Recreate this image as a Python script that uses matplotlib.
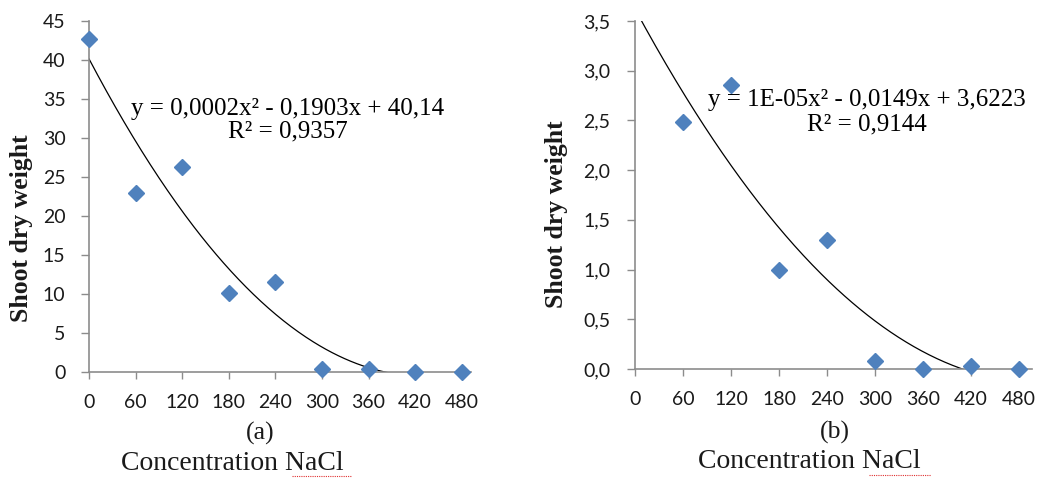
import numpy as np
import matplotlib
matplotlib.use("Agg")
import matplotlib.pyplot as plt
from matplotlib.lines import Line2D

# NaCl concentration levels
conc = [0, 60, 120, 180, 240, 300, 360, 420, 480]

# shoot dry weight, panel (a) and (b)
weight_a = [42.65, 22.9, 26.3, 10.17, 11.58, 0.34, 0.35, 0.0, 0.0]
weight_b = [3.525, 2.48, 2.86, 1.0, 1.30, 0.076, 0.0, 0.027, 0.0]

xticks = [0, 60, 120, 180, 240, 300, 360, 420, 480]
yticks_a = [0, 5, 10, 15, 20, 25, 30, 35, 40, 45]
yticks_b = [0.0, 0.5, 1.0, 1.5, 2.0, 2.5, 3.0, 3.5]
ylabels_b = ["0,0", "0,5", "1,0", "1,5", "2,0", "2,5", "3,0", "3,5"]

eq_a = "y = 0,0002x² - 0,1903x + 40,14\nR² = 0,9357"
eq_b = "y = 1E-05x² - 0,0149x + 3,6223\nR² = 0,9144"

BLUE = "#4F81BD"
GREY = "#8C8C8C"
SERIF = "Liberation Serif"
TICKFONT = "Lato"
TXT = "#1a1a1a"

W, H = 1038, 479
fig = plt.figure(figsize=(W / 100, H / 100), dpi=100)


def px_axes(x0, x1, ytop, ybot):
    return fig.add_axes([x0 / W, 1 - ybot / H, (x1 - x0) / W, (ybot - ytop) / H])


def draw_panel(ax, x, y, ymax, yticks, ylabels, xmax, ypad):
    x = np.array(x, dtype=float)
    y = np.array(y, dtype=float)

    # quadratic trend line fitted to the data
    coef = np.polyfit(x, y, 2)
    xs = np.linspace(x.min(), x.max(), 300)
    ax.plot(xs, np.polyval(coef, xs), color="black", lw=0.9, zorder=2)

    # points above the axis max are hidden, as in the original
    shown = y <= ymax
    ax.plot(x[shown], y[shown], ls="none", marker="D", ms=8.5, color=BLUE,
            mec=BLUE, zorder=3, clip_on=False)

    ax.set_xlim(0, xmax)
    ax.set_ylim(0, ymax)
    ax.set_xticks(xticks)
    ax.set_xticklabels([str(v) for v in xticks], fontfamily=TICKFONT, fontsize=14)
    ax.set_yticks(yticks)
    ax.set_yticklabels(ylabels, fontfamily=TICKFONT, fontsize=14)
    ax.tick_params(axis="x", direction="out", length=5, width=1, color=GREY,
                   pad=11, labelcolor=TXT)
    ax.tick_params(axis="y", direction="out", length=6, width=1, color=GREY,
                   pad=ypad, labelcolor=TXT)
    for s in ["top", "right"]:
        ax.spines[s].set_visible(False)
    for s in ["left", "bottom"]:
        ax.spines[s].set_color(GREY)
        ax.spines[s].set_linewidth(1.2)
    ax.set_facecolor("none")


ax_a = px_axes(89, 471, 21, 372)
draw_panel(ax_a, conc, weight_a, 45, yticks_a, [str(v) for v in yticks_a], 492, 11)
ax_b = px_axes(635, 1032, 21, 369)
draw_panel(ax_b, conc, weight_b, 3.5, yticks_b, ylabels_b, 496, 12)

# equations
fig.text(288 / W, 1 - 120 / H, eq_a, ha="center", va="center", fontfamily=SERIF,
         fontsize=18, linespacing=1.05, color="black")
fig.text(867 / W, 1 - 112 / H, eq_b, ha="center", va="center", fontfamily=SERIF,
         fontsize=18, linespacing=1.15, color="black")

# y labels
fig.text(22 / W, 1 - 228 / H, "Shoot dry weight", rotation=90, ha="center", va="center",
         fontfamily=SERIF, fontsize=18.5, fontweight="bold", color=TXT)
fig.text(557 / W, 1 - 214 / H, "Shoot dry weight", rotation=90, ha="center", va="center",
         fontfamily=SERIF, fontsize=18.5, fontweight="bold", color=TXT)

# panel letters and x labels
fig.text(260 / W, 1 - 433 / H, "(a)", ha="center", va="center", fontfamily=SERIF,
         fontsize=18.5, color=TXT)
fig.text(232 / W, 1 - 463 / H, "Concentration NaCl", ha="center", va="center",
         fontfamily=SERIF, fontsize=20, color=TXT)
fig.text(835 / W, 1 - 432 / H, "(b)", ha="center", va="center", fontfamily=SERIF,
         fontsize=18.5, color=TXT)
fig.text(809 / W, 1 - 462 / H, "Concentration NaCl", ha="center", va="center",
         fontfamily=SERIF, fontsize=20, color=TXT)

# spell-check squiggles under NaCl
for x0, x1, yy in [(292, 352, 476), (869, 931, 475)]:
    fig.add_artist(Line2D([x0 / W, x1 / W], [1 - yy / H, 1 - yy / H], color="#e03030",
                          lw=0.8, ls=(0, (1, 1)), transform=fig.transFigure))

fig.savefig("out.png", dpi=100, facecolor="white")
